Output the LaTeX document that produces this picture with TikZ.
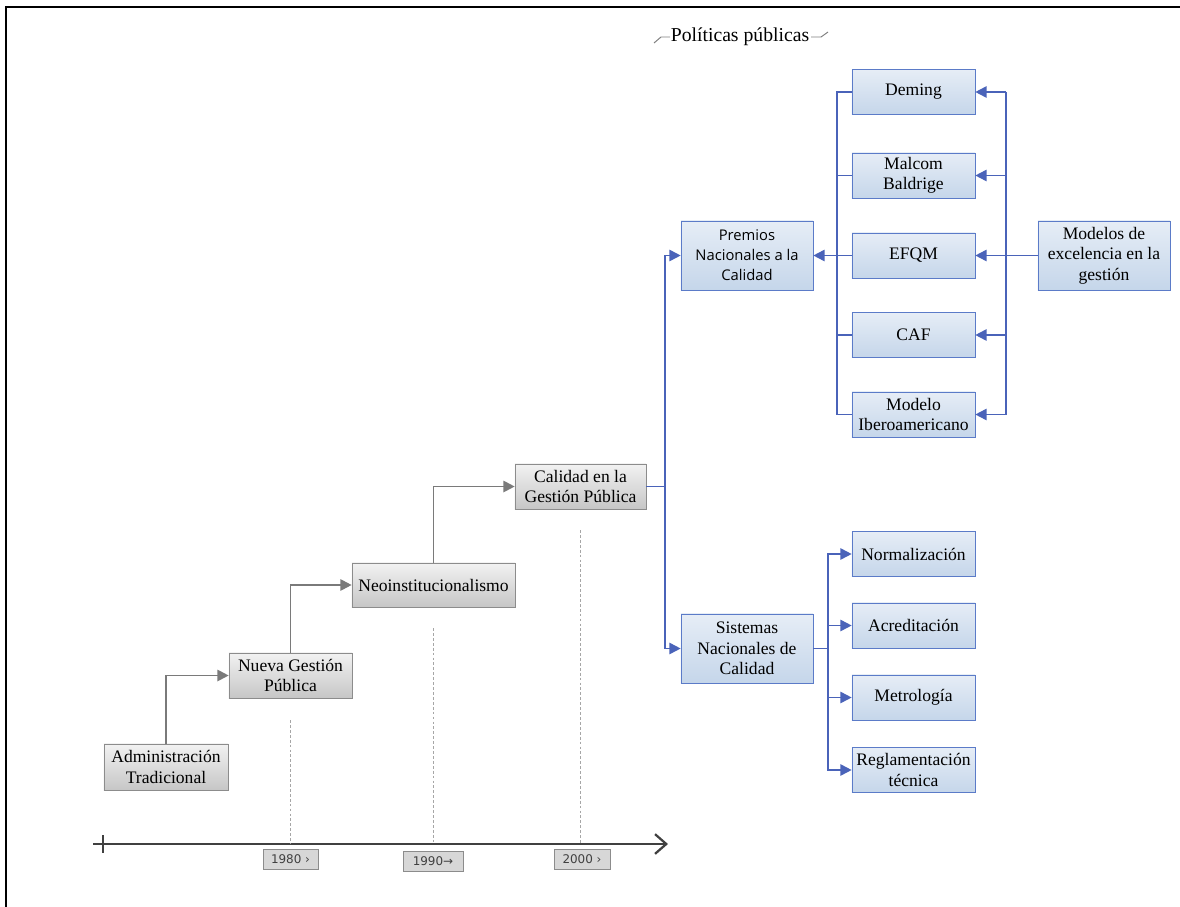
\documentclass[tikz,border=0pt]{standalone}
\usepackage{xcolor}
\usepackage{fontspec}
\setmainfont{Liberation Serif}
\newfontfamily\premfont{Open Sans}
\newfontfamily\yearfont{DejaVu Sans}
\usepackage{tikz}
\usetikzlibrary{positioning,calc,arrows.meta}

\definecolor{grisborde}{HTML}{8C8C8C}
\definecolor{grisalto}{HTML}{F2F2F2}
\definecolor{grisbajo}{HTML}{C6C6C6}
\definecolor{azulborde}{HTML}{5B7BC8}
\definecolor{azulalto}{HTML}{E6EDF6}
\definecolor{azulbajo}{HTML}{C5D6EA}
\definecolor{azullinea}{HTML}{4A63B9}
\definecolor{ejegris}{HTML}{404040}
\definecolor{flechagris}{HTML}{7A7A7A}

\tikzset{
  grisbox/.style={draw=grisborde, top color=grisalto, bottom color=grisbajo,
    minimum width=3.075cm, minimum height=1.125cm, align=center, inner sep=1pt,
    font=\fontsize{12.5}{14.5}\selectfont},
  azulbox/.style={draw=azulborde, top color=azulalto, bottom color=azulbajo,
    minimum width=3.075cm, minimum height=1.125cm, align=center, inner sep=1pt,
    font=\fontsize{12.5}{14.5}\selectfont},
  azulbig/.style={azulbox, minimum width=3.3cm, minimum height=1.725cm},
  yearbox/.style={draw=grisborde, fill=grisbajo!70, minimum height=0.5cm,
    inner sep=1pt, text=ejegris, font=\yearfont\fontsize{8.5}{10}\selectfont},
  grisflecha/.style={draw=flechagris, line width=1.4pt,
    -{Triangle[length=8pt,width=8pt]}},
  azullinea/.style={draw=azullinea, line width=1.2pt},
  azulflecha/.style={azullinea, -{Triangle[length=8pt,width=8pt]}},
  guia/.style={draw=gray!70, line width=0.5pt, dash pattern=on 2pt off 1.5pt},
}

\begin{document}
\begin{tikzpicture}[x=0.025cm, y=-0.025cm]
        \useasboundingbox (0,0) rectangle (1180,907);

        % frame
        \draw[line width=2pt] (6,907) -- (6,7) -- (1180,7);

        % title
        \node (titulo) at (740,37) {\fontsize{14}{16}\selectfont Políticas públicas};
        \draw[gray, line width=0.7pt] (654,43) -- (661,37) -- (670,37);
        \draw[gray, line width=0.7pt] (811,37) -- (821,37) -- (828,32);

        %steps
        \node[grisbox, minimum width=3.1cm, minimum height=1.15cm] (admin) at (166,767) {Administración\\Tradicional};
        \node[grisbox] (nueva) at (290.5,675.5) {Nueva Gestión\\Pública};
        \node[grisbox, minimum width=4.075cm, minimum height=1.1cm] (neo) at (433.5,585) {Neoinstitucionalismo};
        \node[grisbox, minimum width=3.275cm] (calidad) at (580.5,486.5) {Calidad en la\\Gestión Pública};

        \draw[grisflecha] (admin.north) |- (nueva.west);
        \draw[grisflecha] (nueva.north) |- (neo.west);
        \draw[grisflecha] (neo.north) |- (calidad.west);

        %national systems
        \node[azulbig, font=\premfont\fontsize{10.5}{14.2}\selectfont] (premios) at (747,255.5) {Premios\\Nacionales a la\\Calidad};
        \node[azulbig] (sistemas) at (747,648.5) {Sistemas\\Nacionales de\\Calidad};

        \coordinate (splitA) at (665,486.5);
        \draw[azullinea] (calidad.east) -- (splitA);
        \draw[azulflecha] (splitA) |- (premios.west);
        \draw[azulflecha] (splitA) |- (sistemas.west);

        %excellence models
        \node[azulbox] (deming) at (913.5,92) {Deming};
        \node[azulbox] (malcom) at (913.5,175.5) {Malcom\\Baldrige};
        \node[azulbox] (efqm) at (913.5,255.5) {EFQM};
        \node[azulbox] (caf) at (913.5,335) {CAF};
        \node[azulbox] (ibero) at (913.5,414.5) {Modelo\\Iberoamericano};
        \node[azulbig] (modelos) at (1104,255.5) {Modelos de\\excelencia en la\\gestión};

        \coordinate (busL) at (837,255.5);
        \coordinate (busR) at (1006,255.5);
        \draw[azullinea] (deming.west) -| (busL) |- (ibero.west);
        \draw[azullinea] (malcom.west) -- (malcom.west -| busL);
        \draw[azullinea] (efqm.west) -- (busL);
        \draw[azullinea] (caf.west) -- (caf.west -| busL);
        \draw[azulflecha] (busL) -- (premios.east);

        \draw[azullinea] (modelos.west) -- (busR);
        \draw[azullinea] (deming.east -| busR) -- (ibero.east -| busR);
        \foreach \m in {deming,malcom,efqm,caf,ibero}
            \draw[azulflecha] (\m.east -| busR) -- (\m.east);

        %quality infrastructure
        \node[azulbox] (norm) at (913.5,554) {Normalización};
        \node[azulbox] (acred) at (913.5,625.5) {Acreditación};
        \node[azulbox] (metro) at (913.5,697.5) {Metrología};
        \node[azulbox] (regla) at (913.5,770) {Reglamentación\\técnica};

        \coordinate (splitB) at (828,648.5);
        \draw[azullinea] (sistemas.east) -- (splitB);
        \foreach \s in {norm,acred,metro,regla}
            \draw[azulflecha] (splitB) |- (\s.west);

        %timeline
        \coordinate (ejeA) at (93,844);
        \coordinate (ejeB) at (668,844);
        \draw[ejegris, line width=2pt, -{Straight Barb[length=8pt,width=14pt,line width=1.6pt]}] (ejeA) -- (ejeB);
        \draw[ejegris, line width=1.6pt] (103,835) -- (103,853);

        \draw[guia] (290,720) -- (290,844);
        \draw[guia] (433,628) -- (433,844);
        \draw[guia] (580,530) -- (580,844);

        \node[yearbox, minimum width=1.375cm] (y1980) at (290.5,859) {1980 ›};
        \node[yearbox, minimum width=1.5cm] (y1990) at (433,861) {1990→};
        \node[yearbox, minimum width=1.4cm] (y2000) at (582,859) {2000 ›};

    \end{tikzpicture}
\end{document}
